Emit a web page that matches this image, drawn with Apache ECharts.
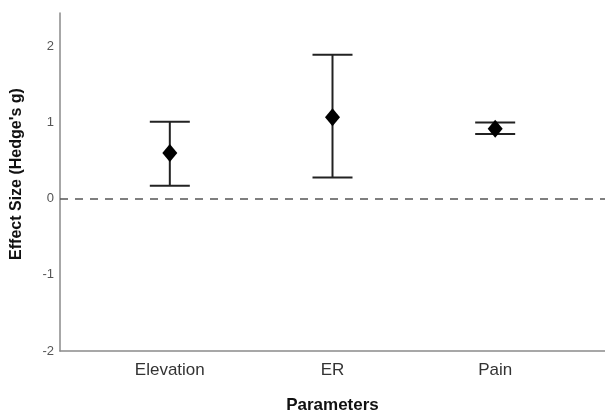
<!DOCTYPE html>
<html><head><meta charset="utf-8">
<script src="https://cdn.jsdelivr.net/npm/echarts@6/dist/echarts.min.js"></script>
<style>html,body{margin:0;padding:0;background:#fff}#c{width:605px;height:411px}</style>
</head><body><div id="c"></div>
<script>
const categories = ['Elevation', 'ER', 'Pain'];
const effectSize = [0.60, 1.07, 0.92];
const lowerCI = [0.17, 0.28, 0.85];
const upperCI = [1.01, 1.89, 1.00];
const yTicks = [-2, -1, 0, 1, 2];

const chart = echarts.init(document.getElementById('c'), null, {renderer: 'canvas'});
const errData = categories.map((c, i) => [i, lowerCI[i], upperCI[i]]);
const ptData = categories.map((c, i) => [i, effectSize[i]]);
const font = 'Liberation Sans, Arial, sans-serif';
chart.setOption({
  animation: false,
  grid: {left: 60, right: 0, top: 13, bottom: 60, outerBoundsMode: 'none', containLabel: false},
  xAxis: {
    type: 'value', min: -0.675, max: 2.675,
    name: 'Parameters', nameLocation: 'middle', nameGap: 46,
    nameTextStyle: {fontFamily: font, fontWeight: 'bold', fontSize: 17, color: '#111'},
    axisLine: {show: true, onZero: false, lineStyle: {color: '#8a8a8a', width: 1.5}},
    axisTick: {show: false},
    splitLine: {show: false},
    axisLabel: {customValues: [0, 1, 2], formatter: v => categories[Math.round(v)] || '',
      fontFamily: font, fontSize: 17, color: '#333', margin: 11}
  },
  yAxis: {
    type: 'value', min: -2, max: 2.44, interval: 1,
    name: "Effect Size (Hedge's g)", nameLocation: 'middle', nameGap: 35,
    nameTextStyle: {fontFamily: font, fontWeight: 'bold', fontSize: 16, color: '#111', padding: [0, 0, 0, 16]},
    axisLine: {show: true, onZero: false, lineStyle: {color: '#8a8a8a', width: 1.5}},
    axisTick: {show: false},
    splitLine: {show: false},
    axisLabel: {customValues: yTicks, fontFamily: font, fontSize: 13, color: '#555', margin: 6}
  },
  series: [
    {
      type: 'custom',
      data: errData,
      renderItem: function (params, api) {
        const x = api.value(0);
        const lo = api.coord([x, api.value(1)]);
        const hi = api.coord([x, api.value(2)]);
        const hw = 20;
        const st = {stroke: '#222', lineWidth: 2};
        return {type: 'group', children: [
          {type: 'line', shape: {x1: lo[0], y1: lo[1], x2: hi[0], y2: hi[1]}, style: st},
          {type: 'line', shape: {x1: lo[0] - hw, y1: lo[1], x2: lo[0] + hw, y2: lo[1]}, style: st},
          {type: 'line', shape: {x1: hi[0] - hw, y1: hi[1], x2: hi[0] + hw, y2: hi[1]}, style: st}
        ]};
      },
      z: 2
    },
    {
      type: 'scatter',
      data: ptData,
      symbol: 'diamond', symbolSize: [15, 18],
      itemStyle: {color: '#000', opacity: 1},
      z: 3,
      markLine: {
        silent: true, symbol: 'none', label: {show: false},
        lineStyle: {type: [8, 7], color: '#555', width: 1.5},
        data: [{yAxis: 0}]
      }
    }
  ]
});
</script></body></html>
